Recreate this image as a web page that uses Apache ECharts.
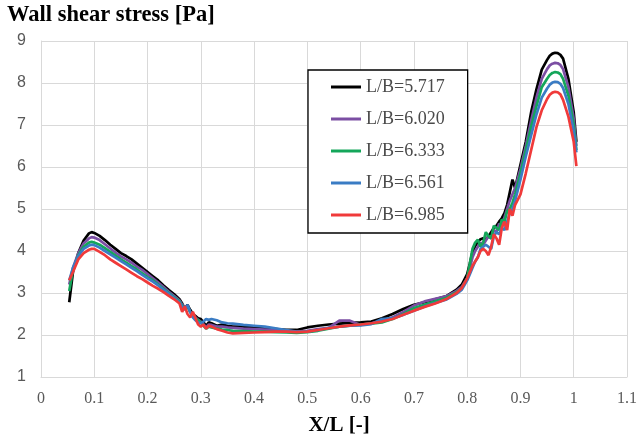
<!DOCTYPE html>
<html><head><meta charset="utf-8">
<script src="https://cdn.jsdelivr.net/npm/echarts@6/dist/echarts.min.js"></script>
<style>html,body{margin:0;padding:0;background:#fff}#c{width:640px;height:441px}</style>
</head><body><div id="c"></div>
<script>
const seriesNames = ['L/B=5.717','L/B=6.020','L/B=6.333','L/B=6.561','L/B=6.985'];
const xTickLabels = ['0','0.1','0.2','0.3','0.4','0.5','0.6','0.7','0.8','0.9','1','1.1'];
const yTickLabels = ['1','2','3','4','5','6','7','8','9'];
const X = [0.053,0.06,0.07,0.08,0.09,0.095,0.1,0.11,0.12,0.13,0.14,0.15,0.16,0.17,0.18,0.19,0.2,0.21,0.22,0.23,0.24,0.25,0.26,0.265,0.27,0.275,0.28,0.285,0.29,0.295,0.3,0.305,0.31,0.315,0.32,0.33,0.34,0.35,0.36,0.38,0.4,0.42,0.44,0.46,0.48,0.5,0.52,0.54,0.56,0.58,0.6,0.62,0.64,0.66,0.68,0.7,0.72,0.74,0.76,0.78,0.79,0.8,0.805,0.81,0.815,0.82,0.825,0.83,0.835,0.84,0.845,0.85,0.855,0.86,0.865,0.87,0.875,0.88,0.885,0.89,0.9,0.91,0.92,0.93,0.94,0.95,0.955,0.96,0.965,0.97,0.975,0.98,0.99,1.0,1.005];
const lb5717 = [2.78,3.5,3.95,4.25,4.42,4.45,4.43,4.36,4.26,4.15,4.05,3.95,3.88,3.8,3.7,3.6,3.5,3.4,3.3,3.18,3.07,2.97,2.85,2.75,2.62,2.72,2.6,2.5,2.45,2.4,2.38,2.3,2.22,2.3,2.28,2.22,2.25,2.22,2.2,2.2,2.18,2.16,2.14,2.12,2.12,2.18,2.22,2.25,2.27,2.29,2.3,2.32,2.4,2.5,2.62,2.72,2.78,2.85,2.92,3.08,3.2,3.45,3.7,3.98,4.12,4.22,4.28,4.3,4.28,4.35,4.45,4.55,4.6,4.7,4.78,4.9,5.1,5.4,5.7,5.5,6.05,6.6,7.3,7.85,8.32,8.55,8.65,8.7,8.72,8.71,8.67,8.58,8.1,7.3,6.6];
const lb6020 = [3.2,3.6,3.95,4.18,4.3,4.33,4.32,4.26,4.16,4.06,3.96,3.87,3.8,3.72,3.63,3.55,3.45,3.35,3.25,3.14,3.03,2.93,2.82,2.72,2.65,2.7,2.55,2.48,2.42,2.36,2.32,2.25,2.18,2.25,2.24,2.2,2.2,2.18,2.17,2.15,2.14,2.13,2.12,2.1,2.08,2.1,2.14,2.17,2.34,2.34,2.24,2.28,2.33,2.42,2.55,2.7,2.8,2.86,2.92,3.05,3.15,3.35,3.6,3.85,4.0,4.1,4.2,4.15,4.25,4.35,4.3,4.5,4.45,4.65,4.6,4.8,5.0,5.2,5.35,5.5,5.95,6.5,7.1,7.65,8.1,8.33,8.42,8.46,8.48,8.47,8.43,8.33,7.9,7.15,6.5];
const lb6333 = [3.05,3.55,3.9,4.1,4.2,4.22,4.2,4.15,4.07,3.98,3.89,3.8,3.72,3.64,3.56,3.47,3.38,3.3,3.2,3.1,3.0,2.9,2.8,2.7,2.62,2.68,2.55,2.45,2.4,2.35,2.3,2.22,2.15,2.2,2.18,2.15,2.13,2.12,2.1,2.09,2.08,2.08,2.07,2.06,2.05,2.07,2.1,2.15,2.2,2.22,2.25,2.27,2.3,2.38,2.5,2.64,2.72,2.8,2.88,3.02,3.12,3.35,3.7,4.05,4.2,4.27,4.1,4.2,4.45,4.35,4.3,4.6,4.55,4.5,4.75,4.7,4.95,5.0,5.15,5.35,5.85,6.4,6.95,7.45,7.9,8.1,8.19,8.24,8.26,8.25,8.21,8.1,7.7,7.0,6.4];
const lb6561 = [3.3,3.6,3.88,4.05,4.13,4.15,4.14,4.08,4.0,3.92,3.84,3.76,3.68,3.6,3.52,3.43,3.35,3.27,3.18,3.08,2.98,2.88,2.78,2.68,2.6,2.72,2.55,2.42,2.35,2.3,2.28,2.32,2.38,2.36,2.38,2.35,2.3,2.28,2.27,2.24,2.22,2.2,2.16,2.12,2.08,2.08,2.12,2.17,2.2,2.22,2.23,2.26,2.38,2.4,2.48,2.58,2.68,2.76,2.84,2.98,3.08,3.3,3.45,3.6,3.75,3.85,4.05,4.1,4.15,4.1,4.05,4.35,4.45,4.4,4.55,4.5,4.7,4.9,5.0,5.2,5.7,6.25,6.75,7.25,7.65,7.87,7.96,8.01,8.03,8.02,7.98,7.88,7.5,6.85,6.35];
const lb6985 = [3.3,3.5,3.8,3.95,4.03,4.05,4.05,3.98,3.9,3.8,3.72,3.64,3.56,3.48,3.4,3.33,3.25,3.17,3.1,3.02,2.93,2.85,2.75,2.55,2.68,2.5,2.42,2.55,2.4,2.25,2.2,2.25,2.15,2.22,2.2,2.14,2.1,2.06,2.04,2.05,2.06,2.07,2.08,2.08,2.07,2.08,2.12,2.16,2.2,2.23,2.25,2.28,2.32,2.38,2.48,2.58,2.67,2.75,2.85,3.0,3.12,3.35,3.5,3.65,3.75,3.85,4.0,4.05,4.0,3.9,4.1,4.4,4.3,4.15,4.55,4.7,4.5,5.0,4.84,5.1,5.35,5.85,6.4,6.95,7.35,7.62,7.72,7.77,7.79,7.78,7.73,7.6,7.2,6.6,6.02];
const seriesValues = [lb5717, lb6020, lb6333, lb6561, lb6985];
const colors = ['#000000','#7b4ea3','#14a65a','#3a7cc4','#f03a3a'];

const chart = echarts.init(document.getElementById('c'), null, {renderer:'canvas'});
const gridColor = '#d9d9d9';
chart.setOption({
  animation:false,
  backgroundColor:'#fff',
  title:{text:'Wall shear stress [Pa]', left:7, top:4, padding:0,
    textStyle:{fontFamily:'Liberation Serif', fontWeight:'bold', fontSize:22.5, color:'#000'}},
  grid:{left:41, right:13, top:41, bottom:59},
  legend:{orient:'vertical', left:308, top:70, padding:[7,23,8,23], itemGap:12,
    itemWidth:30, itemHeight:3, icon:'rect', borderColor:'#000', borderWidth:1.3,
    backgroundColor:'#fff', data:seriesNames,
    textStyle:{fontFamily:'Liberation Serif', fontSize:18, color:'#4a4a4a', lineHeight:20}},
  xAxis:{type:'value', min:0, max:1.1, interval:0.1,
    name:'X/L [-]', nameLocation:'middle', nameGap:38,
    nameTextStyle:{fontFamily:'Liberation Serif', fontWeight:'bold', fontSize:21, color:'#000', padding:[0,0,0,10]},
    axisLine:{lineStyle:{color:gridColor}}, axisTick:{show:false},
    splitLine:{show:true, lineStyle:{color:gridColor, width:1}},
    axisLabel:{margin:14, fontFamily:'Liberation Serif', fontSize:16, color:'#595959',
      formatter:(v)=>xTickLabels[Math.round(v*10)]}},
  yAxis:{type:'value', min:1, max:9, interval:1,
    axisLine:{show:true, lineStyle:{color:gridColor}}, axisTick:{show:false},
    splitLine:{show:true, lineStyle:{color:gridColor, width:1}},
    axisLabel:{margin:15, fontFamily:'Liberation Sans', fontSize:16, color:'#595959',
      formatter:(v)=>yTickLabels[Math.round(v)-1]}},
  series: seriesNames.map((n,i)=>({
    name:n, type:'line', showSymbol:false, symbol:'none', color:colors[i],
    lineStyle:{width:2.7, color:colors[i]}, itemStyle:{color:colors[i]},
    data: X.map((x,j)=>[x, seriesValues[i][j]])
  }))
});
</script></body></html>
